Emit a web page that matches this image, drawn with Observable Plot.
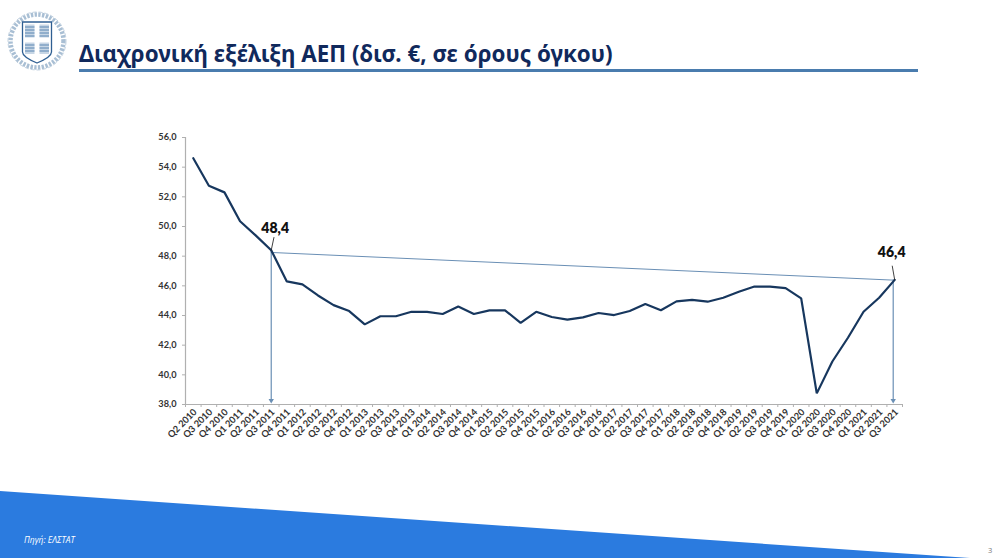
<!DOCTYPE html>
<html lang="el">
<head>
<meta charset="utf-8">
<script src="https://cdn.jsdelivr.net/npm/d3@7"></script>
<script src="https://cdn.jsdelivr.net/npm/@observablehq/plot@0.6"></script>
<style>
html,body{margin:0;padding:0;background:#fff;width:1000px;height:558px;overflow:hidden}
#banner{position:absolute;left:0;top:491px;width:1000px;height:67px;background:#2b7bdf;clip-path:polygon(0 0,970px 67px,0 67px)}
#emblem{position:absolute;left:5px;top:9px}
#title{position:absolute;left:79px;top:39px;margin:0;font:700 22.35px "Noto Sans",sans-serif;color:#10295c;white-space:nowrap;line-height:30px}
#rule{position:absolute;left:79px;top:69px;width:839px;height:3px;background:#4a7cae}
#source{position:absolute;left:24px;top:534px;font:italic 8.5px "Open Sans",sans-serif;color:#fff}
#page{position:absolute;left:988px;top:545px;font:7.5px "Open Sans",sans-serif;color:#777}
#chart{position:absolute;left:0;top:0}
</style>
</head>
<body>
<div id="banner"></div>
<svg id="emblem" width="64" height="64" viewBox="0 0 64 64">
  <circle cx="32" cy="32" r="26.5" fill="none" stroke="#a9bfd4" stroke-width="4.5" stroke-dasharray="2.4 1.4"/>
  <circle cx="32" cy="32" r="29" fill="none" stroke="#c3d2e0" stroke-width="1" stroke-dasharray="4 2"/>
  <path d="M17.5 13H46.5V43Q46.5 48 32 54Q17.5 48 17.5 43Z" fill="#fff" stroke="#2f5f92" stroke-width="1.3"/>
  <path d="M20 15.500H29.500V28.500H20ZM34.500 15.500H44V28.500H34.500ZM20 33.500H29.500V45H20ZM34.500 33.500H44V45H34.500Z" fill="#c7d6e5"/>
  <path d="M20 18H29.500M20 21H29.500M20 24H29.500M20 27H29.500M34.500 18H44M34.500 21H44M34.500 24H44M34.500 27H44M20 36H29.500M20 39H29.500M20 42H29.500M34.500 36H44M34.500 39H44M34.500 42H44" stroke="#5a86b2" stroke-width="1"/>
</svg>
<h1 id="title">Διαχρονική εξέλιξη ΑΕΠ (δισ. €, σε όρους όγκου)</h1>
<div id="rule"></div>
<div id="chart"></div>
<div id="source">Πηγή: ΕΛΣΤΑΤ</div>
<div id="page">3</div>
<script>
const quarters = ["Q2 2010","Q3 2010","Q4 2010","Q1 2011","Q2 2011","Q3 2011","Q4 2011","Q1 2012","Q2 2012","Q3 2012","Q4 2012","Q1 2013","Q2 2013","Q3 2013","Q4 2013","Q1 2014","Q2 2014","Q3 2014","Q4 2014","Q1 2015","Q2 2015","Q3 2015","Q4 2015","Q1 2016","Q2 2016","Q3 2016","Q4 2016","Q1 2017","Q2 2017","Q3 2017","Q4 2017","Q1 2018","Q2 2018","Q3 2018","Q4 2018","Q1 2019","Q2 2019","Q3 2019","Q4 2019","Q1 2020","Q2 2020","Q3 2020","Q4 2020","Q1 2021","Q2 2021","Q3 2021"];
const gdp = [54.6,52.75,52.3,50.35,49.4,48.4,46.3,46.1,45.35,44.7,44.3,43.4,43.95,43.95,44.25,44.25,44.1,44.6,44.1,44.35,44.35,43.5,44.25,43.9,43.72,43.87,44.17,44.03,44.3,44.77,44.35,44.95,45.05,44.93,45.2,45.6,45.95,45.95,45.85,45.15,38.75,40.9,42.5,44.25,45.2,46.4];
const yTicks = [38,40,42,44,46,48,50,52,54,56];
const trendQuarters = ["Q3 2011","Q3 2021"];
const trendValues = [48.25,46.38];
const callouts = [
  {q:"Q3 2011", v:48.4, label:"48,4"},
  {q:"Q3 2021", v:46.4, label:"46,4"}
];
const series = quarters.map((q,i)=>({q, v:gdp[i]}));
const trend = trendQuarters.map((q,i)=>({q, v:trendValues[i]}));
const comma = d => d.toFixed(1).replace(".",",");
const band = 717/46;
const axisColor = "#b0b0b0", labelColor = "#333", trendColor = "#6a8fb5", lineColor = "#17375e";
const spike = {draw(ctx,l){ctx.moveTo(0,0);ctx.lineTo(0,-l);}};

const chart = Plot.plot({
  width:1000, height:558,
  marginLeft:185, marginRight:98, marginTop:137, marginBottom:154,
  style:{background:"transparent", fontFamily:"Lato, sans-serif"},
  x:{type:"band", domain:quarters, padding:0, round:false, axis:null, label:null},
  y:{domain:[38,56], axis:null, label:null},
  marks:[
    Plot.ruleX([quarters[0]],{dx:-band/2, stroke:axisColor, strokeWidth:1.2, x:d=>d, y1:38, y2:56}),
    Plot.ruleY([38],{stroke:axisColor, strokeWidth:1.2}),
    Plot.axisY({ticks:yTicks, tickSize:3, tickPadding:6, stroke:axisColor, tickFormat:comma, fill:labelColor, fontSize:9.2, fontWeight:700, label:null}),
    Plot.axisX({ticks:quarters, tickSize:3, text:null, dx:-band/2, stroke:axisColor, label:null}),
    Plot.axisX({ticks:[quarters[45]], tickSize:3, text:null, dx:band/2, stroke:axisColor, label:null}),
    Plot.axisX({ticks:quarters, tickSize:0, tickPadding:6, tickRotate:-45, textAnchor:"end", fill:labelColor, fontSize:9.3, fontWeight:700, label:null, dx:2}),
    Plot.line(trend,{x:"q", y:"v", stroke:trendColor, strokeWidth:1}),
    Plot.ruleX([callouts[0]],{x:"q", y1:"v", y2:38.2, stroke:trendColor, strokeWidth:1.2}),
    Plot.ruleX([callouts[1]],{x:"q", y1:"v", y2:38.2, dx:-1.5, stroke:trendColor, strokeWidth:1.2}),
    Plot.dot([callouts[0]],{x:"q", y:38.27, symbol:"triangle", r:2, rotate:180, fill:trendColor, stroke:null}),
    Plot.dot([callouts[1]],{x:"q", y:38.27, dx:-1.5, symbol:"triangle", r:2, rotate:180, fill:trendColor, stroke:null}),
    Plot.line(series,{x:"q", y:"v", stroke:lineColor, strokeWidth:2.2, strokeLinejoin:"miter"}),
    Plot.vector([callouts[0]],{x:"q", y:"v", length:13, rotate:12, anchor:"start", shape:spike, stroke:"#222", strokeWidth:.8}),
    Plot.vector([callouts[1]],{x:"q", y:"v", length:14, rotate:-10, anchor:"start", shape:spike, stroke:"#222", strokeWidth:.8}),
    Plot.text([callouts[0]],{x:"q", y:"v", text:"label", dx:4, dy:-22, fontSize:14, fontWeight:800, fill:"#111"}),
    Plot.text([callouts[1]],{x:"q", y:"v", text:"label", dx:-3, dy:-27, fontSize:14, fontWeight:800, fill:"#111"})
  ]
});
document.getElementById("chart").append(chart);
</script>
</body>
</html>
